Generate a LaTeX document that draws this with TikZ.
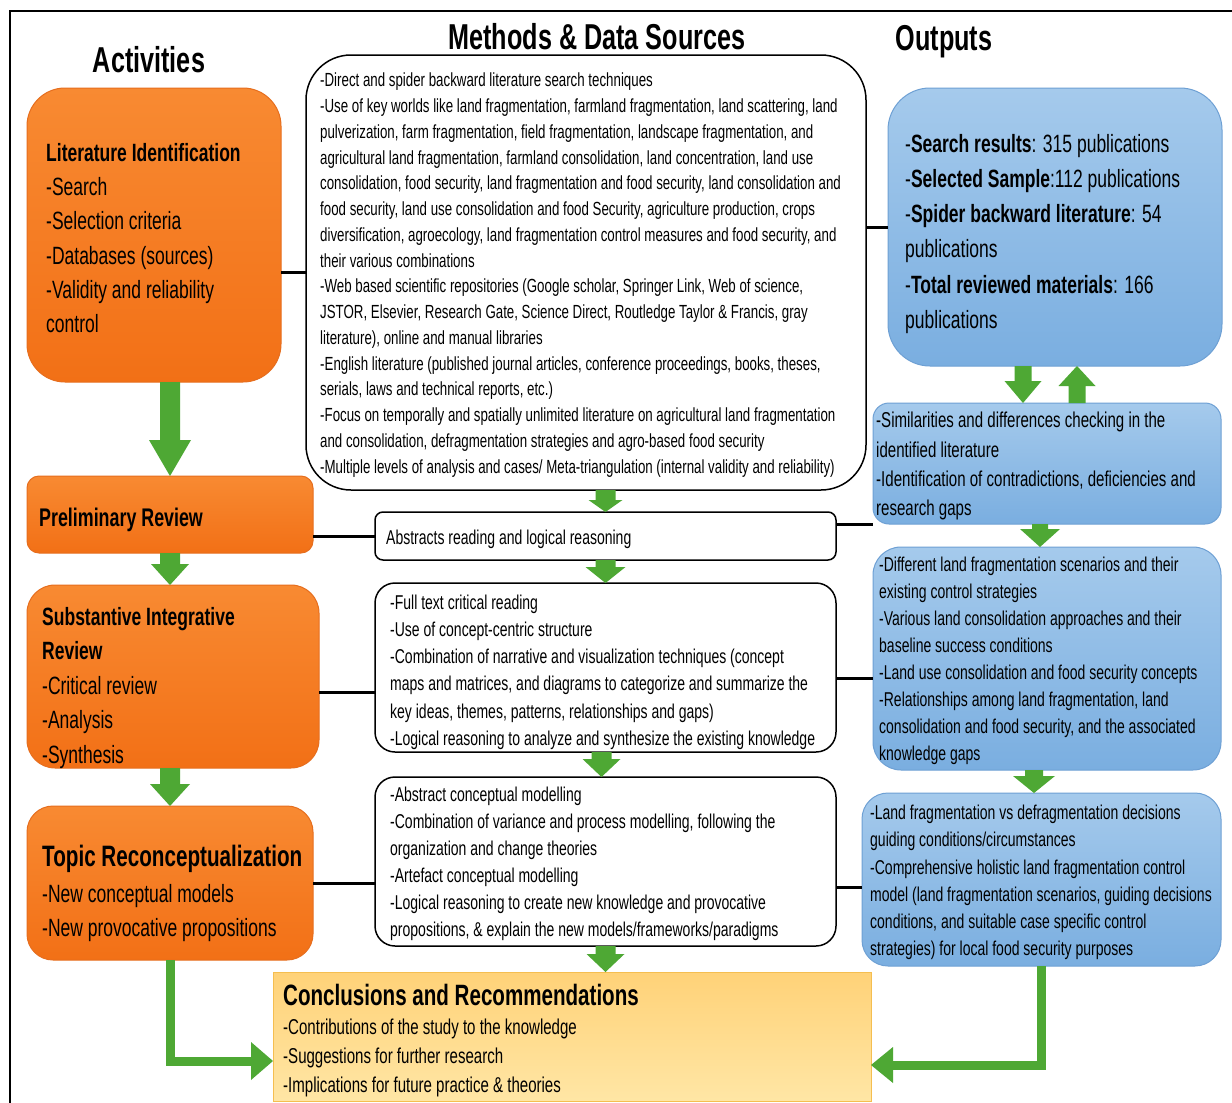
\documentclass[tikz,border=0pt]{standalone}
\usepackage{fontspec}
\setmainfont{Liberation Sans}[FakeStretch=0.7]
\usetikzlibrary{calc}

\definecolor{otop}{RGB}{248,138,50}
\definecolor{obot}{RGB}{242,112,22}
\definecolor{oedge}{RGB}{230,110,30}
\definecolor{btop}{RGB}{165,202,236}
\definecolor{bbot}{RGB}{122,174,224}
\definecolor{bedge}{RGB}{110,160,212}
\definecolor{ytop}{RGB}{255,210,120}
\definecolor{ybot}{RGB}{255,230,165}
\definecolor{yedge}{RGB}{245,190,80}
\definecolor{agreen}{RGB}{78,168,52}

% block arrow from #1 to #2: shaft half width #3, head half width #4, head length #5
\newcommand\gblock[5]{%
  \coordinate (hb) at ($(#2)!#5!(#1)$);
  \fill[agreen] ($(#1)!#3!90:(#2)$) -- ($(hb)!#3!90:(#2)$) -- ($(hb)!#4!90:(#2)$)
    -- (#2) -- ($(hb)!#4!-90:(#2)$) -- ($(hb)!#3!-90:(#2)$) -- ($(#1)!#3!-90:(#2)$) -- cycle;}
% triangular head pointing from #1 to #2: half width #3, length #4
\newcommand\ghead[4]{%
  \coordinate (hb) at ($(#2)!#4!(#1)$);
  \fill[agreen] ($(hb)!#3!90:(#2)$) -- (#2) -- ($(hb)!#3!-90:(#2)$) -- cycle;}

\begin{document}
\begin{tikzpicture}[x=1pt,y=-1pt,
  box/.style={anchor=north west, inner sep=0pt, outer sep=0pt},
  act/.style={box, draw=oedge, line width=1pt, top color=otop, bottom color=obot},
  outbox/.style={box, draw=bedge, line width=1pt, top color=btop, bottom color=bbot},
  meth/.style={box, draw=black, line width=1.5pt, fill=white},
  txt/.style={anchor=north west, inner sep=0pt, align=left},
  coltitle/.style={font=\bfseries\fontsize{36}{40}\selectfont, inner sep=0pt},
  conn/.style={line width=3pt, black},
  gshaft/.style={line width=9pt, agreen, line join=miter}]

\useasboundingbox (0,0) rectangle (1232,1103);
\fill[white] (0,0) rectangle (1232,1103);
\draw[line width=2.5pt] (10,1103) -- (10,11) -- (1232,11);

% column headings
\node[coltitle] (tact) at (149,60) {Activities};
\node[coltitle] (tmeth) at (597,37) {Methods \& Data Sources};
\node[coltitle] (tout) at (944,42) {Outputs};

% activities
\node[act, rounded corners=38pt, minimum width=254pt, minimum height=294pt] (lit) at (27,88) {};
\node[act, rounded corners=12pt, minimum width=286pt, minimum height=77pt] (pre) at (27,476) {};
\node[act, rounded corners=28pt, minimum width=292pt, minimum height=183pt] (sub) at (27,585) {};
\node[act, rounded corners=26pt, minimum width=286pt, minimum height=154pt] (reco) at (27,806) {};

% methods and data sources
\node[meth, rounded corners=45pt, minimum width=560pt, minimum height=435pt] (m1) at (306,55) {};
\node[meth, rounded corners=8pt, minimum width=461pt, minimum height=48pt] (m2) at (375,512) {};
\node[meth, rounded corners=20pt, minimum width=461pt, minimum height=169pt] (m3) at (375,583) {};
\node[meth, rounded corners=20pt, minimum width=461pt, minimum height=169pt] (m4) at (375,777) {};

% conclusions
\node[box, draw=yedge, line width=1pt, top color=ytop, bottom color=ybot,
      minimum width=598pt, minimum height=129pt] (con) at (273,972) {};

% outputs
\node[outbox, rounded corners=42pt, minimum width=334pt, minimum height=278pt] (o1) at (888,88) {};
\node[outbox, rounded corners=16pt, minimum width=348pt, minimum height=121pt] (o2) at (873,403) {};
\node[outbox, rounded corners=28pt, minimum width=348pt, minimum height=223pt] (o3) at (873,547) {};
\node[outbox, rounded corners=26pt, minimum width=359pt, minimum height=173pt] (o4) at (862,793) {};

% box texts
\node[txt, font=\fontsize{25}{34.3}\selectfont] (litx) at (46,143)
  {\textbf{Literature Identification}\\-Search\\-Selection criteria\\-Databases (sources)\\-Validity and reliability\\control};
\node[txt, font=\bfseries\fontsize{25.5}{28}\selectfont] (prex) at (39,508) {Preliminary Review};
\node[txt, font=\fontsize{25}{34.5}\selectfont] (subx) at (42,607)
  {\textbf{Substantive Integrative}\\\textbf{Review}\\-Critical review\\-Analysis\\-Synthesis};
\node[txt, font=\bfseries\fontsize{29.5}{34}\selectfont] (recx) at (42,845) {Topic Reconceptualization};
\node[txt, font=\fontsize{25}{34}\selectfont] (recl) at (42,884)
  {-New conceptual models\\-New provocative propositions};

\node[txt, font=\fontsize{19}{25.75}\selectfont] (m1x) at (320,73)
  {-Direct and spider backward literature search techniques\\
   -Use of key worlds like land fragmentation, farmland fragmentation, land scattering, land\\
   pulverization, farm fragmentation, field fragmentation, landscape fragmentation, and\\
   agricultural land fragmentation, farmland consolidation, land concentration, land use\\
   consolidation, food security, land fragmentation and food security, land consolidation and\\
   food security, land use consolidation and food Security, agriculture production, crops\\
   diversification, agroecology, land fragmentation control measures and food security, and\\
   their various combinations\\
   -Web based scientific repositories (Google scholar, Springer Link, Web of science,\\
   JSTOR, Elsevier, Research Gate, Science Direct, Routledge Taylor \& Francis, gray\\
   literature), online and manual libraries\\
   -English literature (published journal articles, conference proceedings, books, theses,\\
   serials, laws and technical reports, etc.)\\
   -Focus on temporally and spatially unlimited literature on agricultural land fragmentation\\
   and consolidation, defragmentation strategies and agro-based food security\\
   -Multiple levels of analysis and cases/ Meta-triangulation (internal validity and reliability)};
\node[txt, font=\fontsize{20}{27}\selectfont] (m2x) at (386,529.5) {Abstracts reading and logical reasoning};
\node[txt, font=\fontsize{20}{27.2}\selectfont] (m3x) at (390,594.5)
  {-Full text critical reading\\
   -Use of concept-centric structure\\
   -Combination of narrative and visualization techniques (concept\\
   maps and matrices, and diagrams to categorize and summarize the\\
   key ideas, themes, patterns, relationships and gaps)\\
   -Logical reasoning to analyze and synthesize the existing knowledge};
\node[txt, font=\fontsize{20}{27}\selectfont] (m4x) at (390,787)
  {-Abstract conceptual modelling\\
   -Combination of variance and process modelling, following the\\
   organization and change theories\\
   -Artefact conceptual modelling\\
   -Logical reasoning to create new knowledge and provocative\\
   propositions, \& explain the new models/frameworks/paradigms};

\node[txt, font=\bfseries\fontsize{29.4}{33}\selectfont] (conx) at (283,984) {Conclusions and Recommendations};
\node[txt, font=\fontsize{21.5}{29}\selectfont] (conl) at (283,1019)
  {-Contributions of the study to the knowledge\\
   -Suggestions for further research\\
   -Implications for future practice \& theories};

\node[txt, font=\fontsize{25}{35.2}\selectfont] (o1x) at (905,134)
  {-\textbf{Search results}: 315 publications\\
   -\textbf{Selected Sample}:112 publications\\
   -\textbf{Spider backward literature}: 54\\
   publications\\
   -\textbf{Total reviewed materials}: 166\\
   publications};
\node[txt, font=\fontsize{21.5}{29.3}\selectfont] (o2x) at (876,412)
  {-Similarities and differences checking in the\\
   identified literature\\
   -Identification of contradictions, deficiencies and\\
   research gaps};
\node[txt, font=\fontsize{20}{27}\selectfont] (o3x) at (879,557)
  {-Different land fragmentation scenarios and their\\
   existing control strategies\\
   -Various land consolidation approaches and their\\
   baseline success conditions\\
   -Land use consolidation and food security concepts\\
   -Relationships among land fragmentation, land\\
   consolidation and food security, and the associated\\
   knowledge gaps};
\node[txt, font=\fontsize{20}{27.2}\selectfont] (o4x) at (870,805)
  {-Land fragmentation vs defragmentation decisions\\
   guiding conditions/circumstances\\
   -Comprehensive holistic land fragmentation control\\
   model (land fragmentation scenarios, guiding decisions\\
   conditions, and suitable case specific control\\
   strategies) for local food security purposes};

% links between the columns
\draw[conn] (lit.east |- m1.west) -- (m1.west);
\draw[conn] (m1.east |- o1.west) -- (o1.west);
\draw[conn] (pre.east |- m2.west) -- (m2.west);
\coordinate (r2) at ([yshift=12pt]m2.east);
\draw[conn] (r2) -- (r2 -| o2.west);
\coordinate (l3) at ([yshift=-25pt]m3.west);
\draw[conn] (l3 -| sub.east) -- (l3);
\coordinate (r3) at ([yshift=-10.5pt]m3.east);
\draw[conn] (r3) -- (r3 -| o3.west);
\draw[conn] (reco.east) -- (reco.east -| m4.west);
\coordinate (r4) at ([yshift=-26pt]m4.east);
\draw[conn] (r4) -- (r4 -| o4.west);

% flow arrows: activities
\coordinate (g1a) at (lit.south -| pre.north);
\gblock{g1a}{pre.north}{10pt}{21pt}{36pt}
\coordinate (g2b) at (pre.south |- sub.north);
\gblock{pre.south}{g2b}{10pt}{19pt}{21pt}
\coordinate (g3a) at (sub.south -| reco.north);
\gblock{g3a}{reco.north}{10pt}{20pt}{22pt}

% flow arrows: methods
\coordinate (g4a) at (m1.south -| m2.north);
\gblock{g4a}{m2.north}{10pt}{17pt}{12pt}
\gblock{m2.south}{m3.north}{10pt}{20pt}{16pt}
\coordinate (g6a) at ([xshift=-4pt]m3.south);
\coordinate (g6b) at ([xshift=-4pt]m4.north);
\gblock{g6a}{g6b}{10pt}{19pt}{18pt}
\coordinate (g7b) at (m4.south |- con.north);
\gblock{m4.south}{g7b}{10pt}{19pt}{18pt}

% flow arrows: outputs
\coordinate (g8a) at ([xshift=-32pt]o1.south);
\coordinate (g8b) at (g8a |- o2.north);
\gblock{g8a}{g8b}{8.5pt}{18.5pt}{22pt}
\coordinate (g9a) at ([xshift=22pt]o1.south);
\coordinate (g9b) at (g9a |- o2.north);
\gblock{g9b}{g9a}{8.5pt}{18.5pt}{20pt}
\coordinate (g10a) at ([xshift=-7pt]o2.south);
\coordinate (g10b) at (g10a |- o3.north);
\gblock{g10a}{g10b}{8pt}{20pt}{18pt}
\coordinate (g11a) at ([xshift=-13pt]o3.south);
\coordinate (g11b) at (g11a |- o4.north);
\gblock{g11a}{g11b}{9pt}{21pt}{17pt}

% elbow arrows into the conclusions
\coordinate (le) at ([yshift=-24.5pt]con.west);
\coordinate (lb) at ([xshift=-22pt]le);
\draw[gshaft] (reco.south) |- (lb);
\ghead{lb}{le}{19pt}{22pt}
\coordinate (re) at ([yshift=-28.5pt]con.east);
\coordinate (rb) at ([xshift=22pt]re);
\draw[gshaft] (o4.south) |- (rb);
\ghead{rb}{re}{18pt}{22pt}

\end{tikzpicture}
\end{document}
